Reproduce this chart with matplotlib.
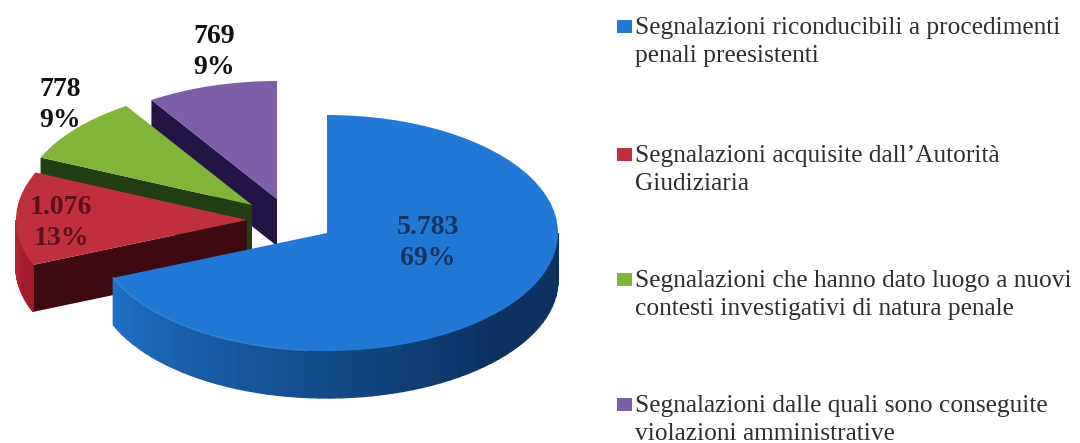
import matplotlib
matplotlib.use("Agg")
import matplotlib.pyplot as plt
import numpy as np
from matplotlib.colors import to_rgb
from matplotlib.patches import Polygon, Rectangle

W, H = 1080, 443

# data
values = [5783, 1076, 778, 769]
legend_labels = [
    "Segnalazioni riconducibili a procedimenti\npenali preesistenti",
    "Segnalazioni acquisite dall\u2019Autorit\u00e0\nGiudiziaria",
    "Segnalazioni che hanno dato luogo a nuovi\ncontesti investigativi di natura penale",
    "Segnalazioni dalle quali sono conseguite\nviolazioni amministrative",
]

# styles (pixel offsets of the exploded slices from the pie centre)
top_colors = ["#2178d6", "#c0303c", "#80b53a", "#7d5fa8"]
cut_colors = ["#0d3563", "#3d0a12", "#213f12", "#221546"]
rim_colors = [("#1f6fc6", "#0c3261"), ("#c22a3a", "#a01c2b"), ("#80b53a", "#80b53a"), ("#7d5fa8", "#7d5fa8")]
text_colors = ["#15345f", "#5c0f18", "#111111", "#111111"]
offsets = [(0, 0), (-80, -13), (-75, -28), (-50, -34)]
label_pos = [(428, 243), (61, 223), (60, 105), (214, 52)]
legend_y = [42, 170, 295, 420]

cx, cy = 327, 233
rx, ry = 231, 118
depth = 47 / ry

font = "Liberation Serif"

fig = plt.figure(figsize=(W / 100, H / 100), dpi=100)
ax = fig.add_axes([0, 0, 1, 1])

wedges, _ = ax.pie(values, colors=top_colors, startangle=90, counterclock=False)
ax.set_aspect("auto")
ax.set_xlim(-cx / rx, (W - cx) / rx)
ax.set_ylim((cy - H) / ry, cy / ry)


def blend(c1, c2, f):
    a, b = np.array(to_rgb(c1)), np.array(to_rgb(c2))
    return tuple(a + (b - a) * f)


# back slices first so that the front ones cover them
for i in [3, 2, 1, 0]:
    w = wedges[i]
    ox = offsets[i][0] / rx
    oy = -offsets[i][1] / ry
    w.set_center((ox, oy))
    w.set_edgecolor("none")
    w.set_zorder(10 + (3 - i) * 3 + 2)

    # cut face of the slice
    t = np.radians(w.theta2)
    if i != 0:
        cut = [(ox, oy), (ox + np.cos(t), oy + np.sin(t)),
               (ox + np.cos(t), oy + np.sin(t) - depth), (ox, oy - depth)]
        ax.add_patch(Polygon(cut, facecolor=cut_colors[i], edgecolor="none", zorder=10 + (3 - i) * 3))

    # outer rim, only the part that faces the viewer
    lo = max(w.theta1, -180)
    hi = min(w.theta2, 0)
    if hi > lo:
        angles = np.linspace(lo, hi, 61)
        for j in range(60):
            a = np.radians(angles[j:j + 2])
            xs = ox + np.cos(a)
            ys = oy + np.sin(a)
            pts = list(zip(xs, ys)) + list(zip(xs[::-1], ys[::-1] - depth))
            f = min(1, j / 42)
            c = blend(*rim_colors[i], f)
            ax.add_patch(Polygon(pts, facecolor=c, edgecolor=c, lw=1.0, zorder=10 + (3 - i) * 3 + 1))

# light edge where the blue top meets its rim
arc = np.radians(np.linspace(wedges[0].theta1, -95, 60))
ax.plot(np.cos(arc), np.sin(arc), color="#4f97e6", lw=1.0, alpha=0.5, zorder=25)

# labels
total = sum(values)
for i, v in enumerate(values):
    s = f"{v:,}".replace(",", ".") + "\n" + f"{round(v / total * 100)}%"
    fig.text(label_pos[i][0] / W, 1 - label_pos[i][1] / H, s, ha="center", va="center", family=font,
             fontweight="bold", fontsize=20, color=text_colors[i], linespacing=1.36, zorder=40)

# legend
for i, lab in enumerate(legend_labels):
    fig.text(635 / W, 1 - legend_y[i] / H, lab, ha="left", va="center", family=font, fontsize=18.3,
             color="#2e2e2e", linespacing=1.32)
    ax.add_patch(Rectangle((617 / W, 1 - (legend_y[i] - 9) / H), 15 / W, 13 / H, transform=fig.transFigure,
                           facecolor=top_colors[i], edgecolor="none"))

ax.axis("off")
fig.savefig("out.png", dpi=100)
